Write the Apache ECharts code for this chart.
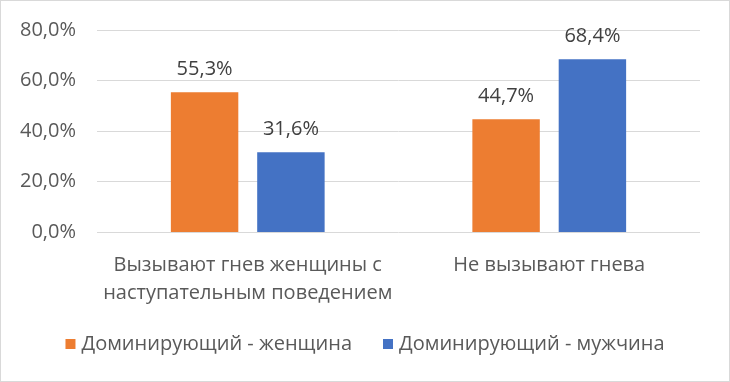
<!DOCTYPE html>
<html><head><meta charset="utf-8">
<script src="https://cdn.jsdelivr.net/npm/echarts@6/dist/echarts.min.js"></script>
<style>html,body{margin:0;padding:0;background:#fff}#c{width:730px;height:382px;box-sizing:border-box;border:1px solid #d9d9d9}</style>
</head><body><div id="c"></div>
<script>
const categories = ['Вызывают гнев женщины с\nнаступательным поведением', 'Не вызывают гнева'];
const seriesNames = ['Доминирующий - женщина', 'Доминирующий - мужчина'];
const womanValues = [55.3, 44.7];
const manValues = [31.6, 68.4];
const yTicks = [0, 20, 40, 60, 80];

const FONT = "'Open Sans', sans-serif";
const fmt = v => v.toFixed(1).replace('.', ',') + '%';
const chart = echarts.init(document.getElementById('c'), null, {renderer: 'canvas'});
chart.setOption({
  animation: false,
  color: ['#ED7D31', '#4472C4'],
  grid: {left: 96, right: 29, top: 29, bottom: 149},
  legend: {
    bottom: 22, left: 'center', itemWidth: 10, itemHeight: 10, itemGap: 31,
    icon: 'rect',
    textStyle: {color: '#595959', fontSize: 20, fontFamily: FONT, padding: [0, 0, 0, 1]},
    data: seriesNames
  },
  xAxis: {
    type: 'category', data: categories,
    axisLine: {show: false}, axisTick: {show: false},
    axisLabel: {color: '#595959', fontSize: 20, fontFamily: FONT, lineHeight: 28, margin: 19, interval: 0}
  },
  yAxis: {
    type: 'value', min: yTicks[0], max: yTicks[yTicks.length - 1], interval: 20,
    axisLine: {show: false}, axisTick: {show: false},
    splitLine: {lineStyle: {color: '#d9d9d9', width: 1}},
    axisLabel: {color: '#595959', fontSize: 20, fontFamily: FONT, margin: 21, formatter: v => fmt(v)}
  },
  series: [
    {name: seriesNames[0], type: 'bar', data: womanValues, barGap: '28%', barCategoryGap: '49%',
     label: {show: true, position: 'top', distance: 13, color: '#404040', fontSize: 20, fontFamily: FONT, formatter: p => fmt(p.value)}},
    {name: seriesNames[1], type: 'bar', data: manValues,
     label: {show: true, position: 'top', distance: 13, color: '#404040', fontSize: 20, fontFamily: FONT, formatter: p => fmt(p.value)}}
  ]
});
</script></body></html>
